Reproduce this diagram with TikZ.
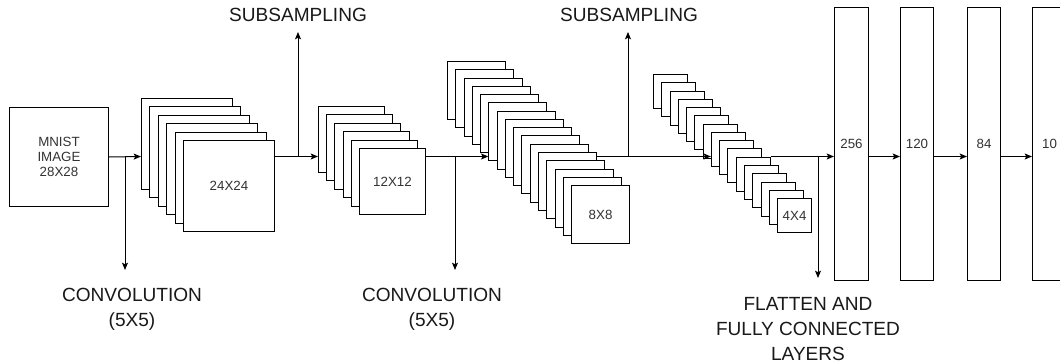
\documentclass[tikz,border=0pt]{standalone}
\usepackage{fontspec}
\setmainfont{Liberation Sans}
\usetikzlibrary{arrows.meta,calc}
\begin{document}
\begin{tikzpicture}[x=0.75pt,y=-0.75pt,
  box/.style={draw=black, line width=0.75pt, fill=white, inner sep=0pt, anchor=north west},
  arr/.style={draw=black, line width=0.75pt, -{Stealth[length=5.5pt,width=4.5pt,inset=1.2pt]}},
  small/.style={font=\fontsize{10}{11.25}\selectfont, text=black!80, align=center, inner sep=0pt},
  big/.style={font=\fontsize{14.3}{18.5}\selectfont, text=black!90, align=center, inner sep=0pt}]
\path[use as bounding box, clip] (0,0) rectangle (1060,364);
\fill[white] (0,0) rectangle (1060,364);

% input image
\node[box, minimum width=99*0.75pt, minimum height=99*0.75pt] (mnist) at (9,107) {};
\node[small] (mnistl) at (mnist.center) {MNIST\\IMAGE\\28X28};

% feature map stacks
\foreach \i in {1,...,6}{\node[box, minimum size=91*0.75pt] (s1-\i) at ({141+(\i-1)*8.4},{98+(\i-1)*8.4}) {};}
\node[small] (l24) at (s1-6.center) {24X24};
\foreach \i in {1,...,6}{\node[box, minimum size=66*0.75pt] (s2-\i) at ({318+(\i-1)*8.2},{106+(\i-1)*8.4}) {};}
\node[small] (l12) at (s2-6.center) {12X12};
\foreach \i in {1,...,16}{\node[box, minimum size=58*0.75pt] (s3-\i) at ({447+(\i-1)*8.27},{61+(\i-1)*8.27}) {};}
\node[small] (l8) at (s3-16.center) {8X8};
\foreach \i in {1,...,16}{\node[box, minimum size=34*0.75pt] (s4-\i) at ({653+(\i-1)*8.27},{74+(\i-1)*8.27}) {};}
\node[small] (l4) at (s4-16.center) {4X4};

% fully connected layers
\node[box, minimum width=34*0.75pt, minimum height=273*0.75pt] (fc1) at (834,7) {};
\node[box, minimum width=33*0.75pt, minimum height=273*0.75pt] (fc2) at (900,7) {};
\node[box, minimum width=33*0.75pt, minimum height=273*0.75pt] (fc3) at (967,7) {};
\node[box, minimum width=34*0.75pt, minimum height=273*0.75pt] (fc4) at (1032,7) {};
\node[small] (l256) at (fc1.center) {256};
\node[small] (l120) at (fc2.center) {120};
\node[small] (l84) at (fc3.center) {84};
\node[small] (l10) at (fc4.center) {10};

% main flow
\coordinate (b1) at (125,156.5);
\coordinate (b1e) at (125,270);
\coordinate (u1) at (298,156.5);
\coordinate (u1e) at (298,32);
\coordinate (b2) at (455,156.5);
\coordinate (b2e) at (455,270);
\coordinate (u2) at (628,156.5);
\coordinate (u2e) at (628,32);
\coordinate (b3) at (818,156.5);
\coordinate (b3e) at (818,278);

\draw[arr] (mnist.east) -- (s1-1.west |- b1);
\draw[arr] (s1-6.east |- b1) -- (s2-1.west |- b1);
\draw[arr] (s2-6.east |- b1) -- (s3-6.west |- b1);
\draw[arr] (s3-12.east |- b1) -- (s4-8.west |- b1);
\draw[arr] (s4-11.east |- b1) -- (fc1.west |- b1);
\draw[arr] (fc1.east |- b1) -- (fc2.west |- b1);
\draw[arr] (fc2.east |- b1) -- (fc3.west |- b1);
\draw[arr] (fc3.east |- b1) -- (fc4.west |- b1);

% branches
\draw[arr] (b1) -- (b1e);
\draw[arr] (u1) -- (u1e);
\draw[arr] (b2) -- (b2e);
\draw[arr] (u2) -- (u2e);
\draw[arr] (b3) -- (b3e);

% labels
\node[big] (conv1) at (132,309.5) {CONVOLUTION\\(5X5)};
\node[big] (conv2) at (432,309.5) {CONVOLUTION\\(5X5)};
\node[big] (sub1) at (298,15) {SUBSAMPLING};
\node[big] (sub2) at (629,15) {SUBSAMPLING};
\node[big] (flat) at (808,329) {FLATTEN AND\\FULLY CONNECTED\\LAYERS};
\end{tikzpicture}
\end{document}
